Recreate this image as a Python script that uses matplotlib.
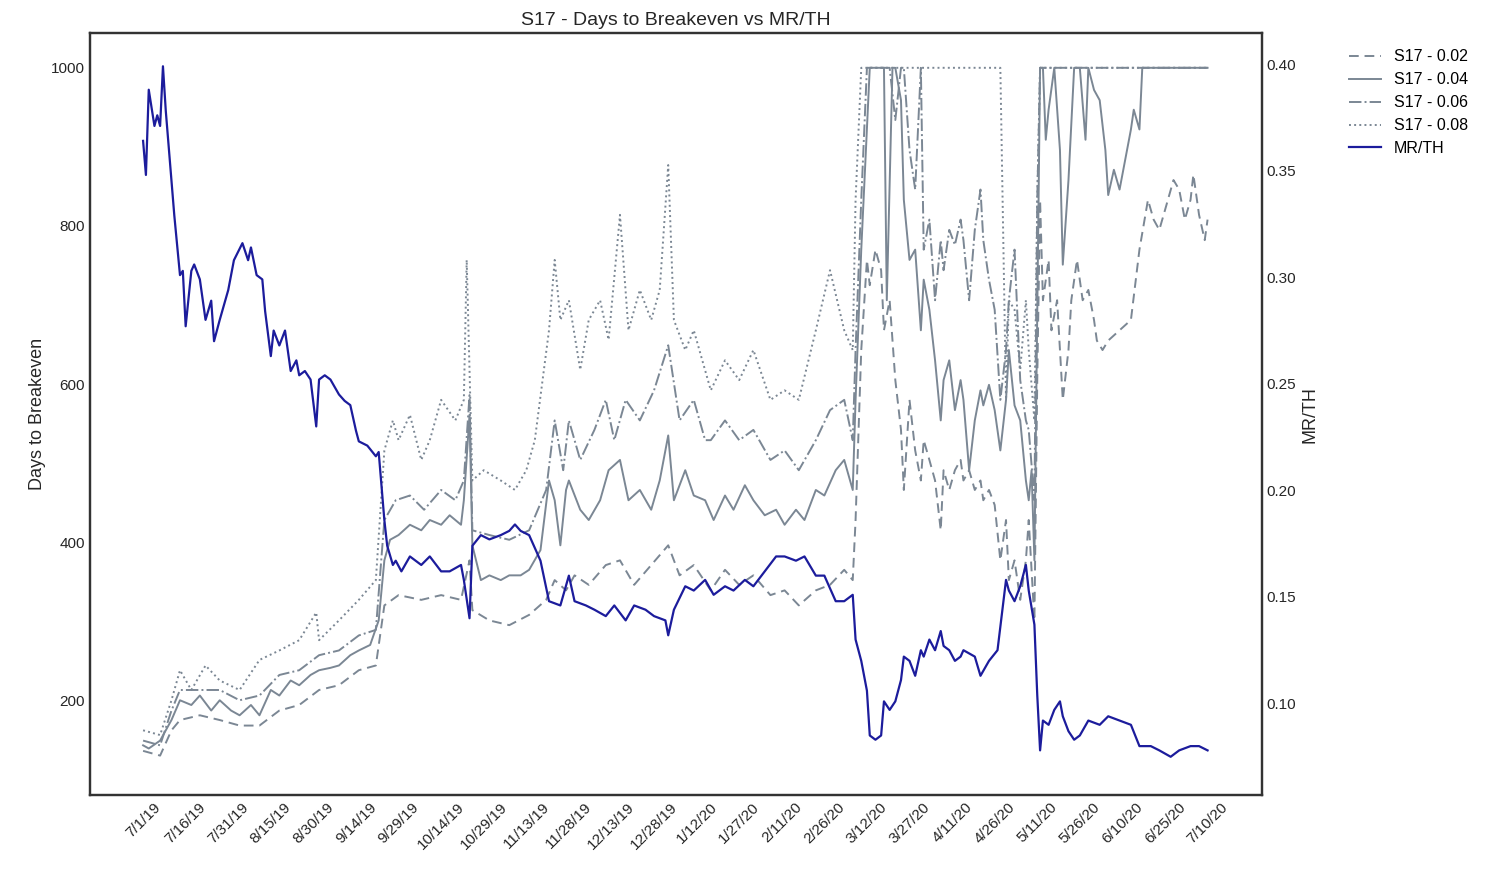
import matplotlib
matplotlib.use("Agg")
import matplotlib.pyplot as plt
import pandas as pd

start = pd.Timestamp("2019-07-01")

mr_days = [0,1,2,4,5,6,7,8,10,11,13,14,15,17,18,20,22,24,25,27,30,32,35,37,38,40,42,43,45,46,48,50,52,54,55,57,59,61,62,64,66,69,71,73,75,76,79,82,83,85,86,88,89,91,94,98,101,105,108,112,113,115,116,119,122,126,129,131,133,136,140,143,147,150,152,156,159,163,166,170,173,177,180,184,185,187,191,194,198,201,205,208,212,215,219,223,226,230,233,237,240,244,247,250,251,253,255,256,258,260,261,263,265,267,268,270,272,274,275,277,279,281,282,284,286,288,289,293,295,298,301,304,305,307,309,311,312,314,315,316,317,319,321,323,324,326,328,330,333,337,340,344,348,351,355,358,362,365,369,372,375]
mr_vals = [0.364,0.348,0.388,0.371,0.376,0.371,0.399,0.378,0.345,0.329,0.301,0.303,0.277,0.303,0.306,0.299,0.280,0.289,0.270,0.280,0.294,0.308,0.316,0.308,0.314,0.301,0.299,0.284,0.263,0.275,0.268,0.275,0.256,0.261,0.254,0.256,0.252,0.230,0.252,0.254,0.252,0.245,0.242,0.240,0.228,0.223,0.221,0.216,0.218,0.186,0.174,0.165,0.167,0.162,0.169,0.165,0.169,0.162,0.162,0.165,0.158,0.140,0.174,0.179,0.177,0.179,0.181,0.184,0.181,0.179,0.167,0.148,0.146,0.160,0.148,0.146,0.144,0.141,0.146,0.139,0.146,0.144,0.141,0.139,0.132,0.144,0.155,0.153,0.158,0.151,0.155,0.153,0.158,0.155,0.162,0.169,0.169,0.167,0.169,0.160,0.160,0.148,0.148,0.151,0.130,0.120,0.106,0.085,0.083,0.085,0.101,0.097,0.101,0.111,0.122,0.120,0.113,0.125,0.122,0.130,0.125,0.134,0.127,0.125,0.120,0.122,0.125,0.122,0.113,0.120,0.125,0.158,0.153,0.148,0.155,0.165,0.153,0.137,0.104,0.078,0.092,0.090,0.097,0.101,0.094,0.087,0.083,0.085,0.092,0.090,0.094,0.092,0.090,0.080,0.080,0.078,0.075,0.078,0.080,0.080,0.078]

s04_days = [0,2,6,10,13,17,20,24,27,31,34,38,41,45,48,52,55,59,62,66,69,73,76,80,83,85,87,90,94,98,101,105,108,112,113,115,116,119,122,126,129,133,136,140,143,145,147,149,150,154,157,161,164,168,171,175,179,182,185,187,191,194,198,201,205,208,212,215,219,223,226,230,233,237,240,244,247,250,251,253,255,256,260,261,262,264,265,267,268,270,272,274,275,277,279,281,282,284,286,288,289,291,293,295,296,298,300,302,304,305,307,309,311,312,313,314,316,317,318,319,321,323,324,326,328,330,332,333,335,337,339,340,342,344,346,348,349,351,352,375]
s04_vals = [143,139,149,175,200,194,206,187,200,187,181,194,181,213,206,225,219,232,238,241,244,257,263,270,301,377,403,409,422,415,428,422,434,422,453,561,396,352,358,352,358,358,365,390,478,453,396,466,478,441,428,453,491,504,453,466,441,478,535,453,491,459,453,428,459,441,472,453,434,441,422,441,428,466,459,491,504,466,580,770,922,1000,1000,1000,706,1000,1000,959,833,757,770,668,732,694,630,554,605,630,567,605,580,491,554,592,573,599,567,516,580,643,573,554,478,453,491,377,1000,1000,909,947,1000,896,751,858,1000,1000,909,1000,972,959,896,839,871,846,884,922,947,922,1000,1000]

s02_days = [0,6,10,13,20,27,34,41,48,55,62,69,76,82,85,90,98,105,112,115,116,122,129,136,142,145,149,152,157,163,168,173,179,185,189,194,200,205,210,215,221,226,231,237,242,247,250,251,253,255,256,258,260,261,263,265,267,268,270,272,274,275,277,279,281,282,284,286,288,289,291,293,295,296,298,300,302,304,305,307,309,311,312,314,315,316,317,319,320,322,324,326,327,329,331,333,335,336,338,340,344,348,351,354,356,358,360,363,365,367,369,370,372,374,375]
s02_vals = [136,130,162,175,181,175,168,168,187,194,213,219,238,244,320,333,327,333,327,377,314,301,295,308,327,352,339,358,346,371,377,346,371,396,358,371,339,365,346,358,333,339,320,339,346,365,352,428,643,757,725,770,744,668,706,605,542,466,580,516,478,529,504,478,415,491,466,491,504,478,491,466,478,453,466,447,377,428,352,377,327,377,428,301,605,833,706,757,668,706,580,643,706,757,706,719,681,655,643,655,668,681,770,833,808,795,820,858,846,808,833,865,814,782,808]

s06_days = [0,6,10,13,20,27,34,41,48,55,62,69,76,82,85,89,94,99,105,110,113,115,116,122,129,136,142,145,148,150,154,159,163,166,170,175,180,185,189,194,198,200,205,210,215,221,226,231,237,242,247,250,251,253,255,258,260,261,263,265,267,268,270,272,274,275,277,279,281,282,284,286,288,289,291,293,295,296,298,300,302,304,305,307,309,311,312,314,315,316,375]
s06_vals = [149,143,187,213,213,213,200,206,232,238,257,263,282,289,428,453,459,441,466,453,478,586,415,409,403,415,466,554,491,554,504,542,580,529,580,554,592,649,554,580,529,529,554,529,542,504,516,491,529,567,580,529,643,833,1000,1000,1000,1000,1000,934,1000,1000,896,846,1000,770,808,706,782,744,795,776,808,782,706,795,846,782,732,694,580,643,706,770,605,554,542,453,833,1000,1000]

s08_days = [0,6,10,13,17,22,27,34,41,48,55,61,62,69,76,82,85,88,90,94,98,101,105,110,113,114,116,120,126,131,135,138,143,145,147,150,154,157,161,164,168,171,175,179,182,185,187,191,194,200,205,210,215,221,226,231,237,242,247,250,251,253,302,304,305,307,309,311,312,314,315,316,375]
s08_vals = [162,156,200,238,213,244,225,213,251,263,276,311,276,301,327,352,516,554,529,561,504,529,580,554,580,757,478,491,478,466,491,529,668,757,681,706,618,681,706,656,814,668,719,681,719,877,681,643,668,592,630,605,643,580,592,580,668,744,668,643,833,1000,1000,580,706,694,618,706,643,554,833,1000,1000]

tick_labels = ["7/1/19","7/16/19","7/31/19","8/15/19","8/30/19","9/14/19","9/29/19","10/14/19","10/29/19","11/13/19","11/28/19","12/13/19","12/28/19","1/12/20","1/27/20","2/11/20","2/26/20","3/12/20","3/27/20","4/11/20","4/26/20","5/11/20","5/26/20","6/10/20","6/25/20","7/10/20"]

def to_dates(d):
    return start + pd.to_timedelta(d, unit="D")

plt.rcParams['font.family'] = ['Liberation Sans', 'DejaVu Sans']
fig = plt.figure(figsize=(15, 8.69), dpi=100)
ax = fig.add_axes([0.06, 0.085, 0.781, 0.877])
gray = '#7b8794'
ax.plot(to_dates(s02_days), s02_vals, color=gray, ls=(0, (5, 3)), lw=1.4, label='S17 - 0.02')
ax.plot(to_dates(s04_days), s04_vals, color=gray, ls='-', lw=1.4, label='S17 - 0.04')
ax.plot(to_dates(s06_days), s06_vals, color=gray, ls='-.', lw=1.4, label='S17 - 0.06')
ax.plot(to_dates(s08_days), s08_vals, color=gray, ls=':', lw=1.4, label='S17 - 0.08')
ax2 = ax.twinx()
ax2.plot(to_dates(mr_days), mr_vals, color='#1c1c9c', lw=1.6, label='MR/TH')

ax.set_ylim(80, 1044)
ax2.set_ylim(0.057, 0.4146)
ax.set_xlim(start - pd.Timedelta(days=18.7), start + pd.Timedelta(days=394))
ticks = [start + pd.Timedelta(days=15 * i) for i in range(len(tick_labels))]
ax.set_xticks(ticks)
ax.set_xticklabels(tick_labels, rotation=45, ha='center', fontsize=11)
ax.set_yticks([200, 400, 600, 800, 1000])
ax2.set_yticks([0.10, 0.15, 0.20, 0.25, 0.30, 0.35, 0.40])
ax2.set_yticklabels(["0.10", "0.15", "0.20", "0.25", "0.30", "0.35", "0.40"])
for a in (ax, ax2):
    a.tick_params(labelsize=11, length=0, colors='#262626')
    for s in a.spines.values():
        s.set_color('#333333')
        s.set_linewidth(1.6)
ax.set_ylabel('Days to Breakeven', fontsize=13, color='#262626')
ax2.set_ylabel('MR/TH', fontsize=13, color='#262626')
ax.set_title('S17 - Days to Breakeven vs MR/TH', fontsize=14, color='#262626')

h1, l1 = ax.get_legend_handles_labels()
h2, l2 = ax2.get_legend_handles_labels()
fig.legend(h1 + h2, l1 + l2, loc='upper left', bbox_to_anchor=(0.89, 0.96), frameon=False, fontsize=11.5)

fig.savefig('out.png', dpi=100)
